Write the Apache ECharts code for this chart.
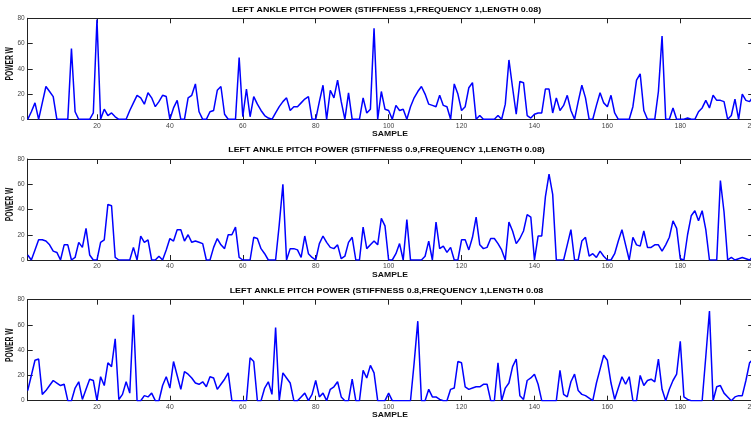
<!DOCTYPE html>
<html>
<head>
<meta charset="utf-8">
<script src="https://cdn.jsdelivr.net/npm/echarts@6/dist/echarts.min.js"></script>
<style>
html,body{margin:0;padding:0;background:#fff;}
#chart{width:751px;height:422px;}
</style>
</head>
<body>
<div id="chart"></div>
<script>
// ---- data ----
const titles = [
  'LEFT ANKLE PITCH POWER (STIFFNESS 1,FREQUENCY 1,LENGTH 0.08)',
  'LEFT ANKLE PITCH POWER (STIFFNESS 0.9,FREQUENCY 1,LENGTH 0.08)',
  'LEFT ANKLE PITCH POWER (STIFFNESS 0.8,FREQUENCY 1,LENGTH 0.08'
];
const xLabel = 'SAMPLE';
const yLabel = 'POWER W';
const xTicks = [20, 40, 60, 80, 100, 120, 140, 160, 180, 200];
const yTicks = [0, 20, 40, 60, 80];

const power1 = [
  0,6,13,0,13,26,22,18,0,0,
  0,0,56,6,0,0,0,0,5,79,
  0,8,3,5,2,0,0,0,7,13,
  19,17,12,21,17,10,14,19,18,0,
  9,15,0,0,17,19,28,6,0,0,
  6,7,23,26,4,0,0,0,49,2,
  24,2,18,12,7,3,1,0,5,10,
  14,17,7,10,10,13,16,18,0,0,
  14,27,0,23,17,31,14,0,21,0,
  0,0,17,5,8,72,0,22,8,7,
  0,11,7,8,0,10,17,22,26,20,
  12,11,10,19,11,10,0,28,20,7,
  10,25,29,0,3,0,0,0,0,3,
  0,12,47,25,4,30,29,3,1,4,
  5,5,24,24,5,17,7,11,19,7,
  0,14,27,17,0,0,11,21,13,10,
  19,5,0,0,0,0,10,31,36,7,
  0,0,0,22,66,0,0,9,0,0,
  0,1,0,0,6,9,15,9,19,15,
  15,14,0,3,16,0,20,15,14,18
];
const power2 = [
  4,0,8,16,16,15,12,7,6,0,
  12,12,0,2,14,10,25,4,0,0,
  14,16,44,43,2,0,0,0,0,10,
  0,19,14,16,0,0,3,0,8,17,
  15,24,24,15,20,14,15,14,13,0,
  0,10,17,12,9,20,20,26,2,0,
  0,0,18,17,9,5,0,0,0,28,
  60,0,9,9,8,2,19,5,2,0,
  13,19,14,10,9,12,1,3,14,18,
  0,0,26,9,12,15,12,33,27,0,
  0,5,13,0,32,0,0,0,0,3,
  15,0,30,9,11,6,10,0,0,16,
  16,8,18,34,12,9,10,17,17,13,
  8,0,30,23,13,17,23,36,34,0,
  19,19,50,68,52,0,0,0,12,24,
  0,0,15,18,3,5,2,7,3,0,
  0,5,15,24,12,0,18,12,11,23,
  10,10,12,12,7,12,18,31,25,1,
  0,20,35,39,31,39,24,0,0,0,
  63,38,0,2,0,1,2,1,0,3
];
const power3 = [
  8,20,32,33,5,8,12,16,14,12,
  13,0,0,10,15,1,9,17,16,0,
  19,12,30,27,49,1,5,15,6,68,
  0,0,4,3,6,0,0,12,19,10,
  31,20,9,23,21,18,14,13,15,11,
  19,18,9,13,17,22,0,0,0,0,
  0,34,31,0,0,10,15,5,58,0,
  22,18,14,0,0,3,6,0,5,16,
  3,6,0,9,11,15,3,0,0,17,
  0,0,24,18,28,22,0,0,0,6,
  0,0,0,0,0,0,30,63,0,0,
  9,3,3,1,0,0,9,10,31,30,
  11,9,10,11,11,13,13,0,0,30,
  0,10,14,27,33,4,1,16,18,21,
  13,0,0,0,0,0,24,5,3,15,
  21,8,5,4,2,0,14,25,36,32,
  14,1,10,19,13,19,0,0,20,12,
  16,17,15,33,9,0,9,16,21,47,
  3,1,0,0,0,0,35,71,0,11,
  12,6,3,0,3,4,4,16,30,33
];
const seriesData = [power1, power2, power3];

// ---- layout ----
const FONT = "'Liberation Sans', Arial, Helvetica, sans-serif";
const gridLeft = 27.7, gridWidth = 725.5;
const gridTops = [18.3, 159, 299.7];
const gridHeight = 101;
const titleY = [9.7, 150.3, 291.3];
const axisColor = '#222';

const grid = [], xAxis = [], yAxis = [], series = [], graphic = [];
seriesData.forEach((vals, i) => {
  grid.push({ left: gridLeft, width: gridWidth, top: gridTops[i], height: gridHeight,
              containLabel: false, outerBoundsMode: 'none' });
  xAxis.push({
    type: 'value', gridIndex: i, min: 1, max: 200, position: 'bottom',
    axisLine: { show: true, onZero: false, lineStyle: { color: axisColor, width: 1 } },
    axisTick: { show: true, inside: true, length: 5, customValues: xTicks, lineStyle: { color: axisColor } },
    axisLabel: { show: true, customValues: xTicks, fontSize: 6.8, color: '#444', margin: 3, fontFamily: FONT, hideOverlap: false },
    splitLine: { show: false }
  });
  xAxis.push({
    type: 'value', gridIndex: i, min: 1, max: 200, position: 'top',
    axisLine: { show: true, onZero: false, lineStyle: { color: axisColor, width: 1 } },
    axisTick: { show: true, inside: true, length: 5, customValues: xTicks, lineStyle: { color: axisColor } },
    axisLabel: { show: false },
    splitLine: { show: false }
  });
  yAxis.push({
    type: 'value', gridIndex: i, min: 0, max: 80, interval: 20, position: 'left',
    axisLine: { show: true, onZero: false, lineStyle: { color: axisColor, width: 1 } },
    axisTick: { show: true, inside: true, length: 5, lineStyle: { color: axisColor } },
    axisLabel: { show: true, fontSize: 6.5, color: '#444', margin: 3, fontFamily: FONT },
    splitLine: { show: false }
  });
  yAxis.push({
    type: 'value', gridIndex: i, min: 0, max: 80, interval: 20, position: 'right',
    axisLine: { show: true, onZero: false, lineStyle: { color: axisColor, width: 1 } },
    axisTick: { show: true, inside: true, length: 5, lineStyle: { color: axisColor } },
    axisLabel: { show: false },
    splitLine: { show: false }
  });
  series.push({
    type: 'line', xAxisIndex: 2 * i, yAxisIndex: 2 * i,
    data: vals.map((v, k) => [k + 1, v]),
    showSymbol: false, symbol: 'none', clip: true,
    lineStyle: { color: '#0000ff', width: 1.5 },
    itemStyle: { color: '#0000ff' }
  });
  // subplot title (source image is vertically compressed)
  graphic.push({
    type: 'text', x: 386.5, y: titleY[i], scaleY: 0.75, silent: true,
    style: { text: titles[i], fill: '#000', font: 'bold 8.9px ' + FONT, textAlign: 'center', textVerticalAlign: 'middle' }
  });
  // x axis name
  graphic.push({
    type: 'text', x: 390, y: gridTops[i] + gridHeight + 15, scaleY: 0.75, silent: true,
    style: { text: xLabel, fill: '#111', font: 'bold 8.6px ' + FONT, textAlign: 'center', textVerticalAlign: 'middle' }
  });
  // y axis name
  graphic.push({
    type: 'text', x: 10.7, y: gridTops[i] + gridHeight / 2 - 5, rotation: Math.PI / 2, scaleX: 0.67, silent: true,
    style: { text: yLabel, fill: '#111', font: 'bold 10px ' + FONT, textAlign: 'center', textVerticalAlign: 'middle' }
  });
});

const chart = echarts.init(document.getElementById('chart'), null, { renderer: 'canvas' });
chart.setOption({
  animation: false,
  backgroundColor: '#fff',
  grid, xAxis, yAxis, series, graphic
});
</script>
</body>
</html>
